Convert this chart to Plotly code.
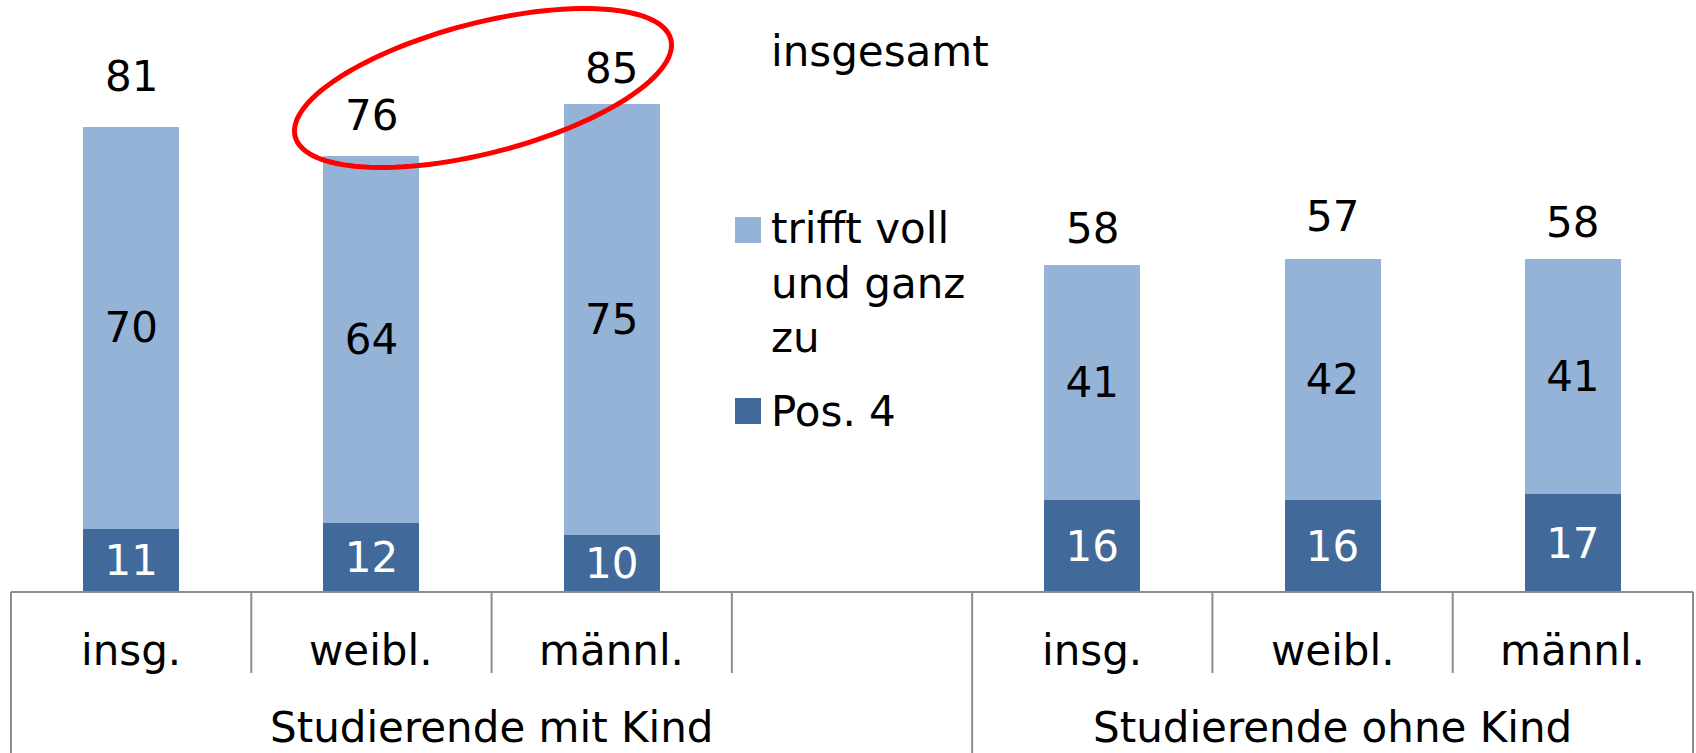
import numpy as np
import plotly.graph_objects as go

# ---------------- data ----------------
slot_labels = ["insg.", "weibl.", "männl.", "", "insg.", "weibl.", "männl."]
group_labels = ["Studierende mit Kind", "Studierende ohne Kind"]
group_slots = [(0, 4), (4, 7)]          # slot ranges of each group
pos4 = [11, 12, 10, 16, 16, 17]
voll = [70, 64, 75, 41, 42, 41]
totals = [81, 76, 85, 58, 57, 58]
series_names = ["trifft voll<br>und ganz<br>zu", "Pos. 4"]
total_name = "insgesamt"

# label nudges (px) for the totals, as in the reference
total_shift = [51, 40, 36, 31, 48, 37]

# ---------------- style ----------------
LIGHT = "#95B3D7"
DARK = "#41699A"
GRID = "#8C8C8C"
FONT = "DejaVu Sans"
FS = 42

W, H = 1696, 753
ML, MR, MT, MB = 11, 3, 0, 161
PW, PH = W - ML - MR, H - MT - MB
nslots = len(slot_labels)

def pxx(px):
    return (px - ML) / PW

def pxy(py):
    return (MT + PH - py) / PH

slots = [i for i, l in enumerate(slot_labels) if l]

fig = go.Figure()
fig.add_trace(go.Bar(
    x=slots, y=pos4, name="Pos. 4", marker=dict(color=DARK, line=dict(width=0)),
    width=0.4, text=[str(v) for v in pos4], textposition="inside",
    insidetextanchor="middle", constraintext="none",
    textfont=dict(family=FONT, size=FS, color="white"), hoverinfo="skip",
    showlegend=False))
fig.add_trace(go.Bar(
    x=slots, y=voll, name="trifft voll und ganz zu", marker=dict(color=LIGHT, line=dict(width=0)),
    width=0.4, text=[str(v) for v in voll], textposition="inside",
    insidetextanchor="middle", constraintext="none",
    textfont=dict(family=FONT, size=FS, color="black"), hoverinfo="skip",
    showlegend=False))

annotations = []
# totals above bars
for x, t, s in zip(slots, totals, total_shift):
    annotations.append(dict(x=x, y=t, xref="x", yref="y", text=str(t), showarrow=False,
                            xanchor="center", yanchor="middle", yshift=s,
                            font=dict(family=FONT, size=FS, color="black")))
# category labels
for i, l in enumerate(slot_labels):
    if l:
        annotations.append(dict(x=(i + 0.5) / nslots, y=pxy(651), xref="paper", yref="paper",
                                text=l, showarrow=False, xanchor="center", yanchor="middle",
                                font=dict(family=FONT, size=FS, color="black")))
# group labels
for (a, b), g in zip(group_slots, group_labels):
    annotations.append(dict(x=(a + b) / 2 / nslots, y=pxy(727), xref="paper", yref="paper",
                            text=g, showarrow=False, xanchor="center", yanchor="middle",
                            font=dict(family=FONT, size=FS, color="black")))
# legend texts
annotations.append(dict(x=pxx(769), y=pxy(51), xref="paper", yref="paper", text=total_name,
                        showarrow=False, xanchor="left", yanchor="middle",
                        font=dict(family=FONT, size=FS, color="black")))
annotations.append(dict(x=pxx(769), y=pxy(283), xref="paper", yref="paper", text=series_names[0],
                        showarrow=False, xanchor="left", yanchor="middle", align="left",
                        font=dict(family=FONT, size=FS, color="black")))
annotations.append(dict(x=pxx(769), y=pxy(411), xref="paper", yref="paper", text=series_names[1],
                        showarrow=False, xanchor="left", yanchor="middle",
                        font=dict(family=FONT, size=FS, color="black")))

shapes = []
# legend squares
shapes.append(dict(type="rect", xref="paper", yref="paper", x0=pxx(735), x1=pxx(761),
                   y0=pxy(243), y1=pxy(217), fillcolor=LIGHT, line=dict(width=0)))
shapes.append(dict(type="rect", xref="paper", yref="paper", x0=pxx(735), x1=pxx(761),
                   y0=pxy(424), y1=pxy(398), fillcolor=DARK, line=dict(width=0)))
# separators
group_bounds = sorted({a for a, b in group_slots} | {b for a, b in group_slots})
for k in range(nslots + 1):
    bottom = pxy(H) if k in group_bounds else pxy(673)
    shapes.append(dict(type="line", xref="paper", yref="paper", x0=k / nslots, x1=k / nslots,
                       y0=0, y1=bottom, line=dict(color=GRID, width=2)))
# axis line
shapes.append(dict(type="line", xref="paper", yref="paper", x0=0, x1=1, y0=0, y1=0,
                   line=dict(color=GRID, width=2)))

# red ellipse highlighting
cx, cy, ea, eb, th = 483, 88, 194, 65, np.deg2rad(14.5)
t = np.linspace(0, 2 * np.pi, 121)
ex = cx + ea * np.cos(t) * np.cos(th) - eb * np.sin(t) * np.sin(th)
ey = cy - (ea * np.cos(t) * np.sin(th) + eb * np.sin(t) * np.cos(th))
path = "M " + " L ".join(f"{pxx(a):.5f},{pxy(b):.5f}" for a, b in zip(ex, ey)) + " Z"
shapes.append(dict(type="path", xref="paper", yref="paper", path=path,
                   line=dict(color="#FF0000", width=5)))

fig.update_layout(
    width=W, height=H,
    margin=dict(l=ML, r=MR, t=MT, b=MB, pad=0),
    barmode="stack",
    plot_bgcolor="white", paper_bgcolor="white",
    xaxis=dict(range=[-0.5, nslots - 0.5], showticklabels=False, showgrid=False,
               zeroline=False, showline=False, ticks=""),
    yaxis=dict(range=[0, PH / 5.74], visible=False),
    annotations=annotations, shapes=shapes,
    font=dict(family=FONT, size=FS),
)

fig.write_html("out.html", config={"displayModeBar": False},
               post_script="document.body.style.margin='0';document.body.style.overflow='hidden';")
